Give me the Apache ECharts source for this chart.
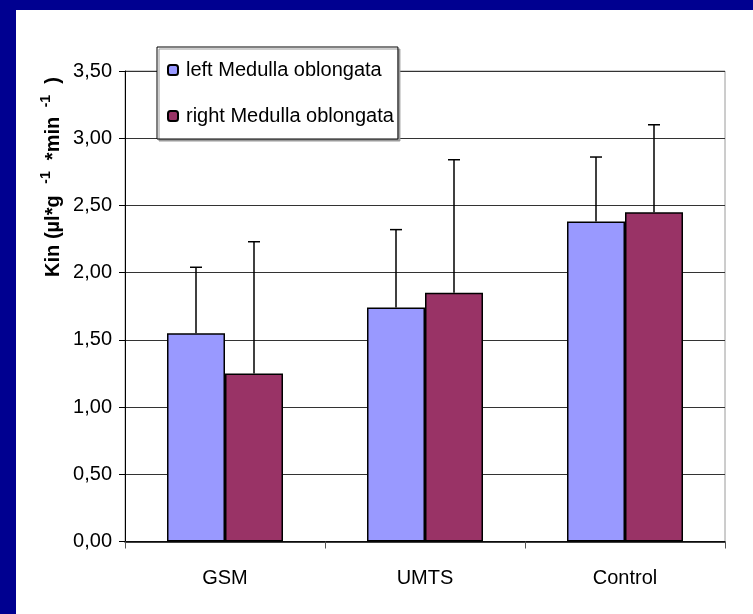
<!DOCTYPE html>
<html>
<head>
<meta charset="utf-8">
<script src="https://cdn.jsdelivr.net/npm/echarts@6/dist/echarts.min.js"></script>
<style>
  html, body { margin: 0; padding: 0; width: 753px; height: 614px; background: #000090; overflow: hidden; }
  #frame { position: absolute; left: 16px; top: 10px; width: 737px; height: 604px; background: #ffffff; box-shadow: inset 1px 1px 0 #9a9a9a; }
  #chart { position: absolute; left: 0; top: 0; width: 737px; height: 604px; }
</style>
</head>
<body>
<div id="frame"><div id="chart"></div></div>
<script>
// ---- data ----
const categories = ['GSM', 'UMTS', 'Control'];
const seriesNames = ['left Medulla oblongata', 'right Medulla oblongata'];
const leftValues = [1.55, 1.74, 2.38];
const rightValues = [1.25, 1.85, 2.45];
const leftErrors = [0.49, 0.58, 0.48];
const rightErrors = [0.98, 0.99, 0.65];
const yTickValues = [0, 0.5, 1, 1.5, 2, 2.5, 3, 3.5];
const yTickLabels = ['0,00', '0,50', '1,00', '1,50', '2,00', '2,50', '3,00', '3,50'];

const FONT = 'Liberation Sans, Arial, sans-serif';
const colors = ['#9999FF', '#993366'];
const CAT_GAP = 0.42;

function errorSeries(values, errors, side) {
  return {
    type: 'custom',
    silent: true,
    z: 5,
    data: values.map((v, i) => [i, v, errors[i]]),
    renderItem: function (params, api) {
      const idx = api.value(0);
      const v = api.value(1);
      const e = api.value(2);
      const band = api.size([1, 0])[0];
      const barW = band * (1 - CAT_GAP) / 2;
      const base = api.coord([idx, v]);
      const top = api.coord([idx, v + e]);
      const x = base[0] + side * barW / 2;
      const cap = 6;
      return {
        type: 'group',
        children: [
          { type: 'line', shape: { x1: x, y1: base[1], x2: x, y2: top[1] }, style: { stroke: '#000', lineWidth: 1.5 } },
          { type: 'line', shape: { x1: x - cap, y1: top[1], x2: x + cap, y2: top[1] }, style: { stroke: '#000', lineWidth: 1.5 } }
        ]
      };
    }
  };
}

const chart = echarts.init(document.getElementById('chart'), null, { renderer: 'canvas' });
chart.setOption({
  backgroundColor: '#ffffff',
  animation: false,
  textStyle: { fontFamily: FONT },
  grid: { left: 109, right: 28, top: 61, bottom: 72.5, show: true, borderColor: '#9a9a9a', borderWidth: 1, backgroundColor: 'transparent' },
  legend: {
    orient: 'vertical',
    left: 141,
    top: 37,
    data: seriesNames,
    itemWidth: 10,
    itemHeight: 10,
    itemGap: 26,
    padding: [13, 4, 13, 10],
    backgroundColor: '#ffffff',
    borderColor: '#000000',
    borderWidth: 1,
    borderRadius: 0,
    shadowColor: '#9a9a9a',
    shadowBlur: 0,
    shadowOffsetX: 2,
    shadowOffsetY: 2,
    textStyle: { fontFamily: FONT, fontSize: 20, color: '#000', padding: [0, 0, 0, 3] },
    selectedMode: false
  },
  xAxis: {
    type: 'category',
    data: categories,
    axisLine: { lineStyle: { color: '#000', width: 1.5 } },
    axisTick: { show: true, inside: false, length: 7, lineStyle: { color: '#555' }, alignWithLabel: false },
    axisLabel: { fontFamily: FONT, fontSize: 20, color: '#000', margin: 27 },
    splitLine: { show: false }
  },
  yAxis: {
    type: 'value',
    min: 0,
    max: 3.5,
    interval: 0.5,
    axisLine: { show: true, lineStyle: { color: '#000', width: 1 } },
    axisTick: { show: true, length: 6, lineStyle: { color: '#000' } },
    axisLabel: {
      fontFamily: FONT, fontSize: 20, color: '#000', margin: 13,
      formatter: function (v) {
        const i = yTickValues.findIndex(t => Math.abs(t - v) < 1e-9);
        return i >= 0 ? yTickLabels[i] : '';
      }
    },
    splitLine: { show: true, lineStyle: { color: '#333', width: 1 } }
  },
  graphic: [{
    type: 'text',
    x: 35,
    y: 167,
    rotation: Math.PI / 2,
    style: {
      text: '{b|Kin (µl*g}{s|   -1}{b|  *min }{s| -1}{b|  )}',
      align: 'center',
      verticalAlign: 'middle',
      rich: {
        b: { fontFamily: FONT, fontSize: 20, fontWeight: 'bold', color: '#000', lineHeight: 24, verticalAlign: 'bottom' },
        s: { fontFamily: FONT, fontSize: 14, fontWeight: 'bold', color: '#000', lineHeight: 24, verticalAlign: 'top' }
      }
    }
  }],
  series: [
    {
      name: seriesNames[0], type: 'bar', data: leftValues,
      barGap: '0%', barCategoryGap: (CAT_GAP * 100) + '%',
      itemStyle: { color: colors[0], borderColor: '#000', borderWidth: 1.5 }
    },
    {
      name: seriesNames[1], type: 'bar', data: rightValues,
      barGap: '0%', barCategoryGap: (CAT_GAP * 100) + '%',
      itemStyle: { color: colors[1], borderColor: '#000', borderWidth: 1.5 }
    },
    errorSeries(leftValues, leftErrors, -1),
    errorSeries(rightValues, rightErrors, 1)
  ]
});
</script>
</body>
</html>
